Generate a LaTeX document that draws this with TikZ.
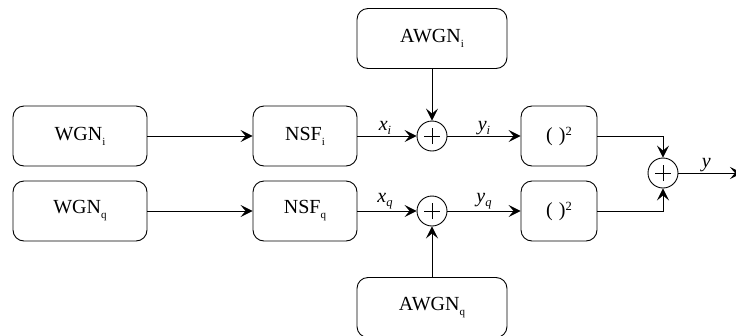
\documentclass[tikz,border=0pt]{standalone}
\usepackage{fontspec}
\setmainfont{Liberation Serif}
\usetikzlibrary{arrows.meta}
\newcommand{\lowsub}[1]{\raisebox{-5pt}{\fontsize{11}{11}\selectfont #1}}
\newcommand{\sig}[2]{\textit{#1}\raisebox{-4.5pt}{\fontsize{12.5}{12}\selectfont\itshape #2}}
\tikzset{
  blk/.style={draw, line width=0.9pt, rounded corners=11pt, minimum width=#1, minimum height=60pt, inner sep=0pt, font=\fontsize{20}{20}\selectfont},
  blk/.default=134pt,
  adder/.style={draw, circle, line width=0.9pt, minimum size=30pt, inner sep=0pt},
  wire/.style={line width=0.9pt, -{Stealth[length=12pt, width=12pt, inset=5pt]}},
  lbl/.style={font=\fontsize{20}{20}\selectfont, inner sep=1pt}
}
\begin{document}
\begin{tikzpicture}[x=1pt, y=-1pt]
\useasboundingbox (0,0) rectangle (736,335);
% source and filter blocks
\node[blk] (wgni) at (80,136) {WGN\lowsub{i}};
\node[blk] (wgnq) at (80,211) {WGN\lowsub{q}};
\node[blk=104pt] (nsfi) at (305,136) {NSF\lowsub{i}};
\node[blk=104pt] (nsfq) at (305,211) {NSF\lowsub{q}};
\node[blk=150pt] (awgni) at (432,38.5) {AWGN\lowsub{i}};
\node[blk=150pt] (awgnq) at (432,307.5) {AWGN\lowsub{q}};
% adders
\node[adder] (addi) at (432,136) {};
\node[adder] (addq) at (432,211) {};
\node[adder] (addo) at (663,173) {};
\foreach \a in {addi,addq,addo}{
  \draw[line width=0.7pt] ([xshift=-8pt]\a.center) -- ([xshift=8pt]\a.center)
                          ([yshift=-8pt]\a.center) -- ([yshift=8pt]\a.center);
}
% squarers
\node[blk=76pt] (sqi) at (559,136) {(\hspace{6pt})\raisebox{6pt}{\fontsize{12.5}{12}\selectfont 2}};
\node[blk=76pt] (sqq) at (559,211) {(\hspace{6pt})\raisebox{6pt}{\fontsize{12.5}{12}\selectfont 2}};
\coordinate (out) at (742,173);
% connections
\draw[wire] (wgni) -- (nsfi);
\draw[wire] (wgnq) -- (nsfq);
\draw[wire] (nsfi) -- node[lbl, above, xshift=-2pt] {\sig{x}{i}} (addi);
\draw[wire] (nsfq) -- node[lbl, above, xshift=-2pt] {\sig{x}{q}} (addq);
\draw[wire] (awgni) -- (addi);
\draw[wire] (awgnq) -- (addq);
\draw[wire] (addi) -- node[lbl, above] {\sig{y}{i}} (sqi);
\draw[wire] (addq) -- node[lbl, above] {\sig{y}{q}} (sqq);
\draw[wire] (sqi.east) -| (addo.north);
\draw[wire] (sqq.east) -| (addo.south);
\draw[wire] (addo) -- node[lbl, above, xshift=-4pt] {\textit{y}} (out);
\end{tikzpicture}
\end{document}
